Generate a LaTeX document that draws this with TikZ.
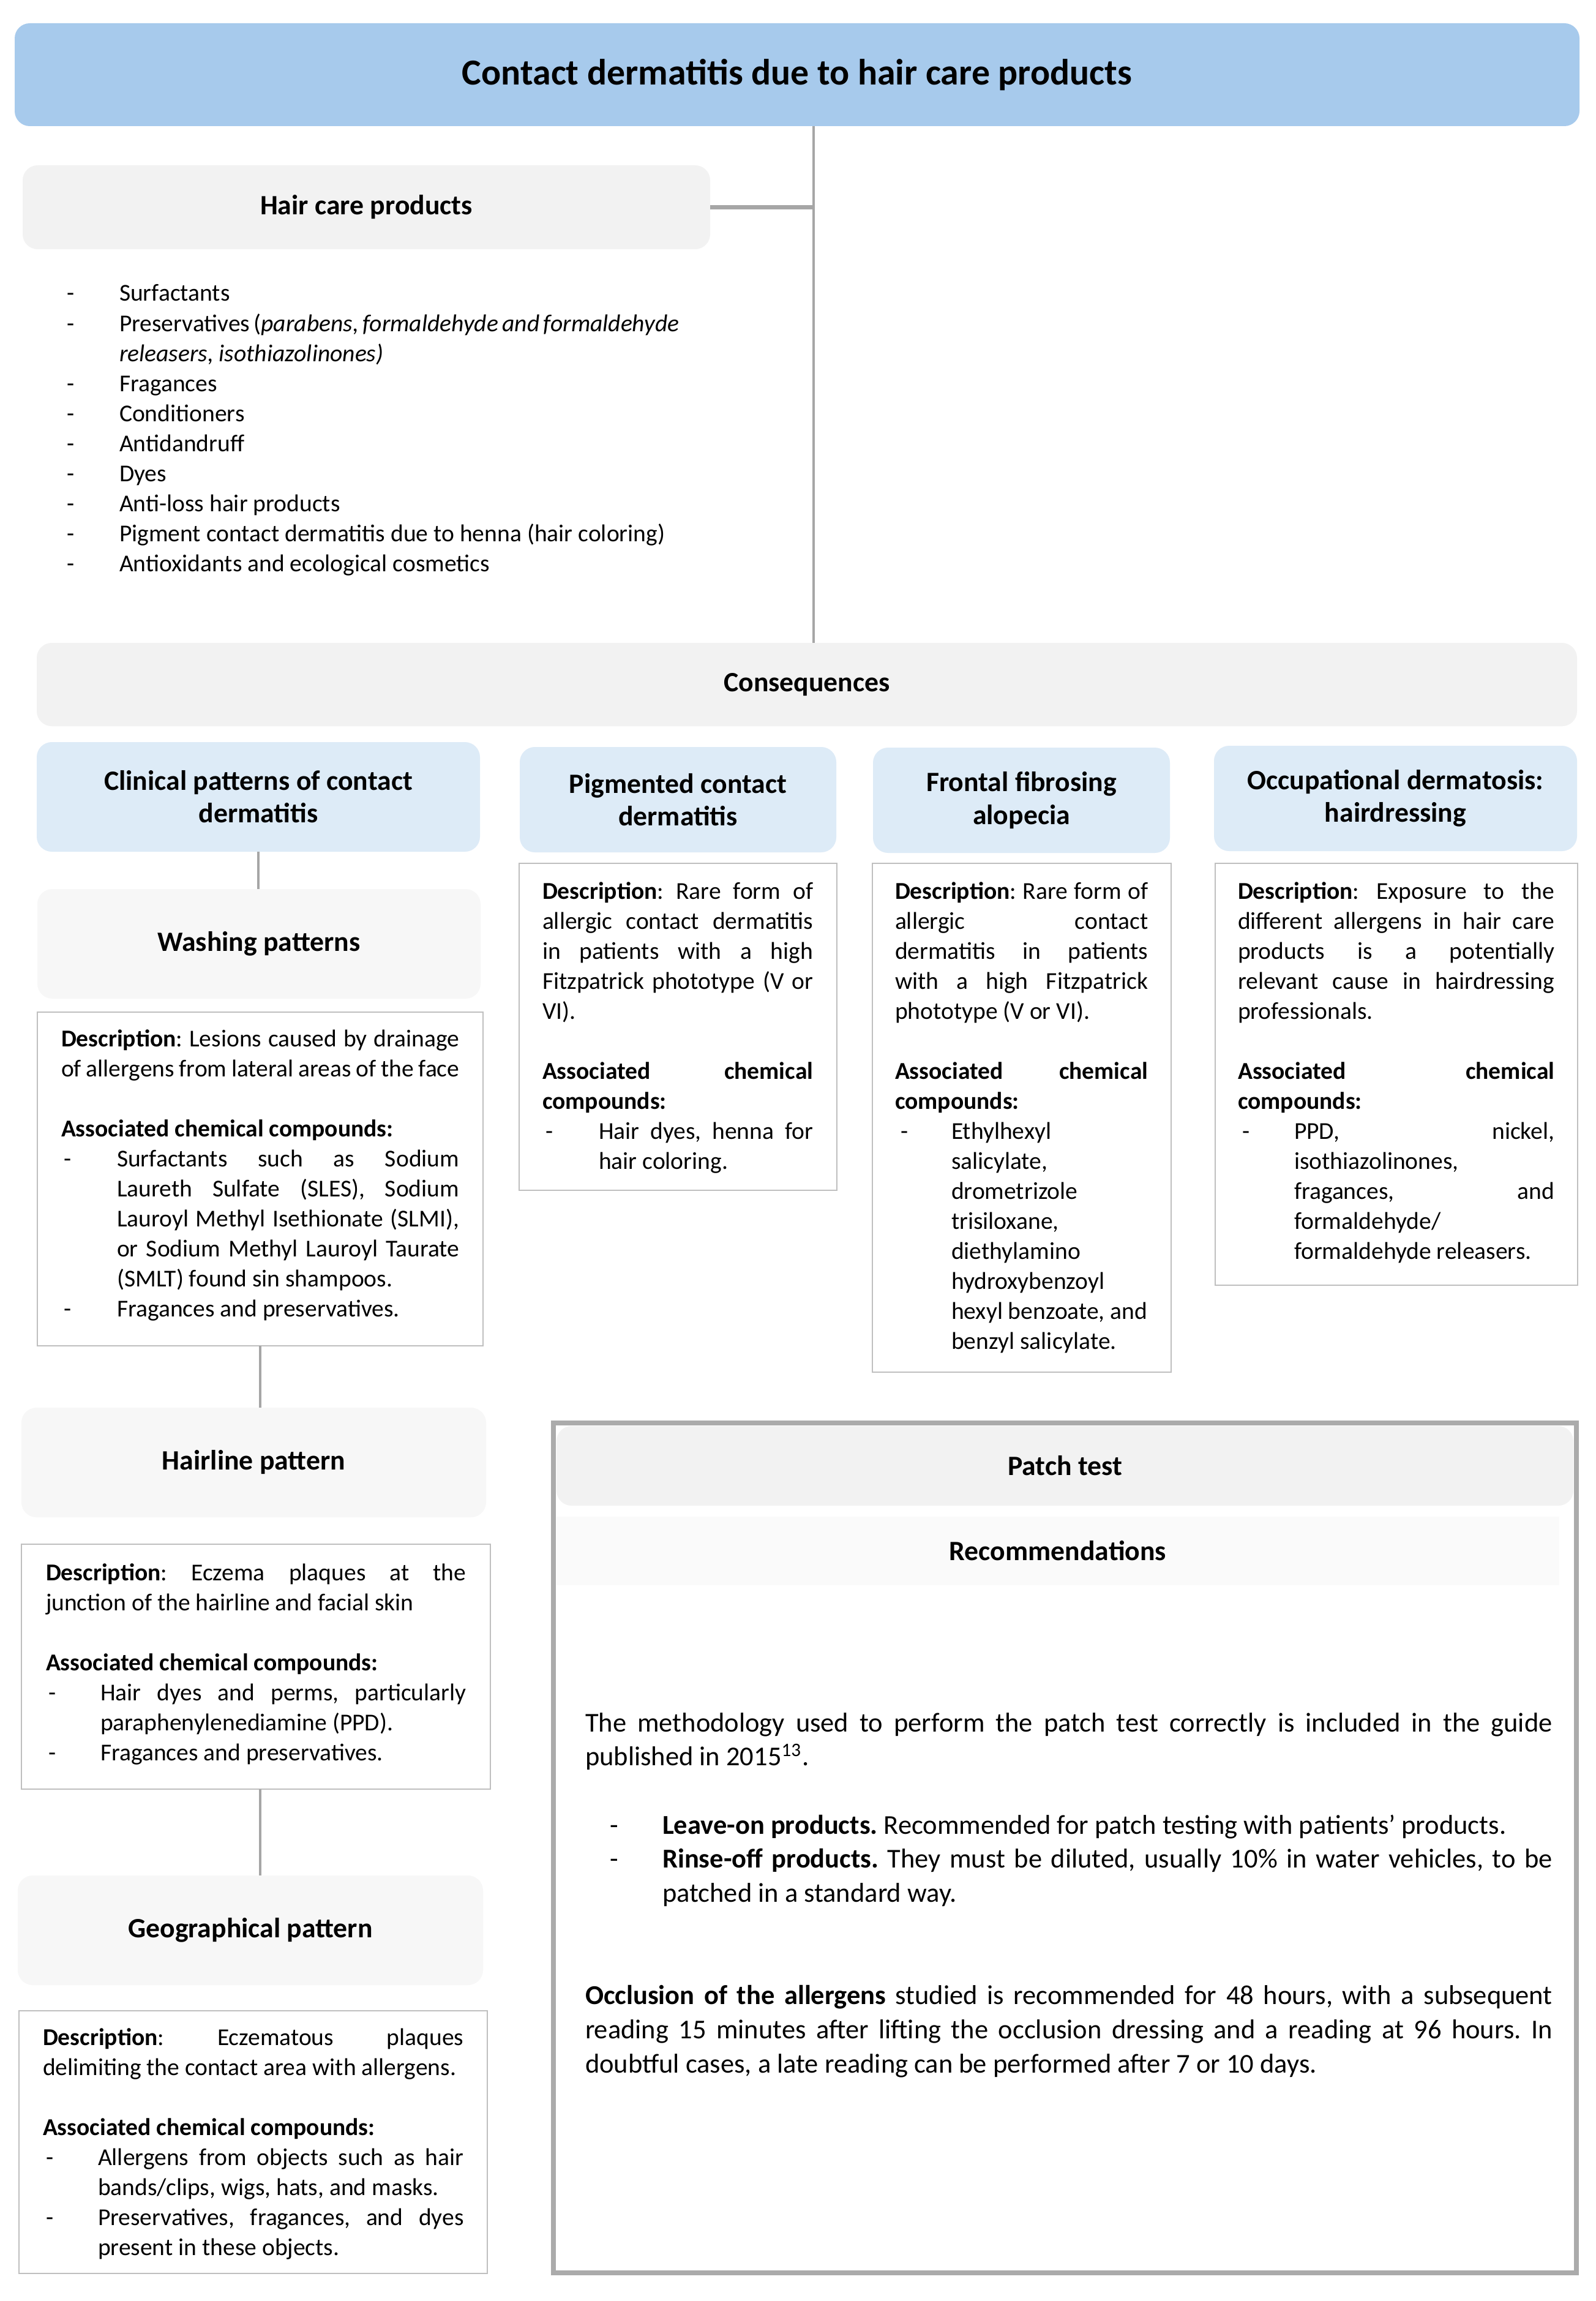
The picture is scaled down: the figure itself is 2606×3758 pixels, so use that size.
\documentclass[tikz,border=0pt]{standalone}
\usepackage{fontspec}
\setmainfont{Carlito}
\frenchspacing
\definecolor{ttlblue}{RGB}{167,202,236}
\definecolor{hdblue}{RGB}{221,235,247}
\definecolor{hdgray}{RGB}{242,242,242}
\definecolor{ltgray}{RGB}{247,247,247}
\definecolor{vltgray}{RGB}{250,250,250}
\definecolor{lncol}{RGB}{166,166,166}
\definecolor{bdcol}{RGB}{191,191,191}
\definecolor{ptcol}{RGB}{171,171,171}
\newdimen\mydsh \newdimen\mytin
\newcommand\bodyfont{\fontsize{11.25}{13.94}\selectfont}
\newcommand\hdfont{\fontsize{13}{15.1}\selectfont\bfseries}
\newcommand\ttlfont{\fontsize{17}{20}\selectfont\bfseries}
\newcommand\patchfont{\fontsize{12.65}{15.85}\selectfont}
\newcommand\xJL[1]{\hbox to\hsize{#1}}
\newcommand\xLL[1]{\hbox to\hsize{#1\hfil}}
\newcommand\xDJ[1]{\hbox to\hsize{\hbox to\mytin{\hskip\mydsh -\hfil}#1}}
\newcommand\xDL[1]{\hbox to\hsize{\hbox to\mytin{\hskip\mydsh -\hfil}#1\hfil}}
\newcommand\xIJ[1]{\hbox to\hsize{\hskip\mytin #1}}
\newcommand\xIL[1]{\hbox to\hsize{\hskip\mytin #1\hfil}}
\newcommand\xBL{\hbox{}}
\newcommand\bx[7]{\node[#6, minimum width={(#4-#2)*0.01cm}, minimum height={(#5-#3)*0.01cm}] (#1) at ({(#2+#4)/2},{(#3+#5)/2}) {#7};}
\begin{document}
\begin{tikzpicture}[x=0.01cm,y=-0.01cm,
 every node/.style={inner sep=0pt, outer sep=0pt},
 ttlbox/.style={rectangle, rounded corners=7pt, fill=ttlblue, font=\ttlfont},
 graybox/.style={rectangle, rounded corners=7pt, fill=hdgray, font=\hdfont, align=center},
 bluebox/.style={rectangle, rounded corners=7pt, fill=hdblue, font=\hdfont, align=center},
 patbox/.style={rectangle, rounded corners=7pt, fill=ltgray, font=\hdfont, align=center},
 recbox/.style={rectangle, fill=vltgray, font=\hdfont, align=center},
 descbox/.style={rectangle, draw=bdcol, line width=0.8pt, fill=white},
 outerbox/.style={rectangle, draw=ptcol, line width=2.2pt},
 conn/.style={draw=lncol, line width=1.4pt},
 txt/.style={anchor=base west, inner sep=0pt}]
\useasboundingbox (0,0) rectangle (2606,3758);
\fill[white] (0,0) rectangle (2606,3758);
\coordinate (spine) at (1329,0);
% boxes
\bx{ttl}{24}{38}{2580}{206}{ttlbox}{Contact dermatitis due to hair care products}
\bx{hcp}{37}{270}{1160}{407}{graybox}{Hair care products}
\bx{cons}{60}{1050}{2576}{1186}{graybox}{Consequences}
\bx{clin}{60}{1212}{784}{1391}{bluebox}{Clinical patterns of contact\\dermatitis}
\bx{pig}{849}{1220}{1366}{1392}{bluebox}{Pigmented contact\\dermatitis}
\bx{ffa}{1426}{1221}{1911}{1393}{bluebox}{Frontal fibrosing\\alopecia}
\bx{occ}{1983}{1218}{2576}{1390}{bluebox}{Occupational dermatosis:\\hairdressing}
\bx{wash}{61}{1452}{785}{1631}{patbox}{Washing patterns}
\bx{wd}{61}{1653}{789}{2198}{descbox}{}
\bx{pd}{848}{1410}{1367}{1944}{descbox}{}
\bx{fd}{1425}{1410}{1913}{2241}{descbox}{}
\bx{od}{1985}{1410}{2577}{2099}{descbox}{}
\bx{hl}{35}{2299}{794}{2478}{patbox}{Hairline pattern}
\bx{hd}{35}{2522}{801}{2922}{descbox}{}
\bx{geo}{29}{3063}{789}{3242}{patbox}{Geographical pattern}
\bx{gd}{31}{3284}{796}{3713}{descbox}{}
\bx{pt}{904}{2324}{2575}{3712}{outerbox}{}
\bx{pth}{909}{2329}{2570}{2459}{graybox}{Patch test}
\bx{rec}{909}{2477}{2547}{2589}{recbox}{Recommendations}
% connectors
\draw[conn] (ttl.south -| spine) -- (cons.north -| spine);
\draw[conn, line width=2pt] (hcp.east) -- (hcp.east -| spine);
\draw[conn] (clin.south) -- (clin.south |- wash.north);
\draw[conn] (wd.south) -- (wd.south |- hl.north);
\draw[conn] (hd.south -| wd.south) -- (geo.north -| wd.south);
% texts
\node[txt] (hcpt) at (109,492) {\vtop{\bodyfont\hsize=10cm\relax \mydsh=0pt \mytin=0.86cm
 \xDL{Surfactants}
 \xDL{Preservatives (\textit{parabens, formaldehyde and formaldehyde}}
 \xIL{\textit{releasers, isothiazolinones)}}
 \xDL{Fragances}
 \xDL{Conditioners}
 \xDL{Antidandruff}
 \xDL{Dyes}
 \xDL{Anti-loss hair products}
 \xDL{Pigment contact dermatitis due to henna (hair coloring)}
 \xDL{Antioxidants and ecological cosmetics}}};
\node[txt] (wdt) at (100,1709) {\vtop{\bodyfont\hsize=6.5cm\relax \mydsh=0.04cm \mytin=0.91cm
 \xJL{\textbf{Description}: Lesions caused by drainage}
 \xLL{of allergens from lateral areas of the face}
 \xBL
 \xLL{\textbf{Associated chemical compounds:}}
 \xDJ{Surfactants such as Sodium}
 \xIJ{Laureth Sulfate (SLES), Sodium}
 \xIJ{Lauroyl Methyl Isethionate (SLMI),}
 \xIJ{or Sodium Methyl Lauroyl Taurate}
 \xIL{(SMLT) found sin shampoos.}
 \xDL{Fragances and preservatives.}}};
\node[txt] (pdt) at (886,1468) {\vtop{\bodyfont\hsize=4.42cm\relax \mydsh=0.05cm \mytin=0.92cm
 \xJL{\textbf{Description}: Rare form of}
 \xJL{allergic contact dermatitis}
 \xJL{in patients with a high}
 \xJL{Fitzpatrick phototype (V or}
 \xLL{VI).}
 \xBL
 \xJL{\textbf{Associated chemical}}
 \xLL{\textbf{compounds:}}
 \xDJ{Hair dyes, henna for}
 \xIL{hair coloring.}}};
\node[txt] (fdt) at (1462,1468) {\vtop{\bodyfont\hsize=4.13cm\relax \mydsh=0.09cm \mytin=0.92cm
 \xJL{\textbf{Description}: Rare form of}
 \xJL{allergic contact}
 \xJL{dermatitis in patients}
 \xJL{with a high Fitzpatrick}
 \xLL{phototype (V or VI).}
 \xBL
 \xJL{\textbf{Associated chemical}}
 \xLL{\textbf{compounds:}}
 \xDL{Ethylhexyl}
 \xIL{salicylate,}
 \xIL{drometrizole}
 \xIL{trisiloxane,}
 \xIL{diethylamino}
 \xIL{hydroxybenzoyl}
 \xIL{hexyl benzoate, and}
 \xIL{benzyl salicylate.}}};
\node[txt] (odt) at (2022,1468) {\vtop{\bodyfont\hsize=5.17cm\relax \mydsh=0.07cm \mytin=0.92cm
 \xJL{\textbf{Description}: Exposure to the}
 \xJL{different allergens in hair care}
 \xJL{products is a potentially}
 \xJL{relevant cause in hairdressing}
 \xLL{professionals.}
 \xBL
 \xJL{\textbf{Associated chemical}}
 \xLL{\textbf{compounds:}}
 \xDJ{PPD, nickel,}
 \xIL{isothiazolinones,}
 \xIJ{fragances, and}
 \xIL{formaldehyde/}
 \xIL{formaldehyde releasers.}}};
\node[txt] (hdt) at (75,2581) {\vtop{\bodyfont\hsize=6.86cm\relax \mydsh=0.04cm \mytin=0.89cm
 \xJL{\textbf{Description}: Eczema plaques at the}
 \xLL{junction of the hairline and facial skin}
 \xBL
 \xLL{\textbf{Associated chemical compounds:}}
 \xDJ{Hair dyes and perms, particularly}
 \xIL{paraphenylenediamine (PPD).}
 \xDL{Fragances and preservatives.}}};
\node[txt] (gdt) at (70,3340) {\vtop{\bodyfont\hsize=6.87cm\relax \mydsh=0.05cm \mytin=0.90cm
 \xJL{\textbf{Description}: Eczematous plaques}
 \xLL{delimiting the contact area with allergens.}
 \xBL
 \xLL{\textbf{Associated chemical compounds:}}
 \xDJ{Allergens from objects such as hair}
 \xIL{bands/clips, wigs, hats, and masks.}
 \xDJ{Preservatives, fragances, and dyes}
 \xIL{present in these objects.}}};
\node[txt] (ptt) at (956,2828) {\vtop{\patchfont\hsize=15.79cm\relax \mydsh=0.40cm \mytin=1.26cm
 \xJL{The methodology used to perform the patch test correctly is included in the guide}
 \xLL{published in 2015\textsuperscript{13}.}
 \xBL
 \xDL{\textbf{Leave-on products.} Recommended for patch testing with patients’ products.}
 \xDJ{\textbf{Rinse-off products.} They must be diluted, usually 10\% in water vehicles, to be}
 \xIL{patched in a standard way.}
 \xBL
 \xBL
 \xJL{\textbf{Occlusion of the allergens} studied is recommended for 48 hours, with a subsequent}
 \xJL{reading 15 minutes after lifting the occlusion dressing and a reading at 96 hours. In}
 \xLL{doubtful cases, a late reading can be performed after 7 or 10 days.}}};
\end{tikzpicture}
\end{document}
